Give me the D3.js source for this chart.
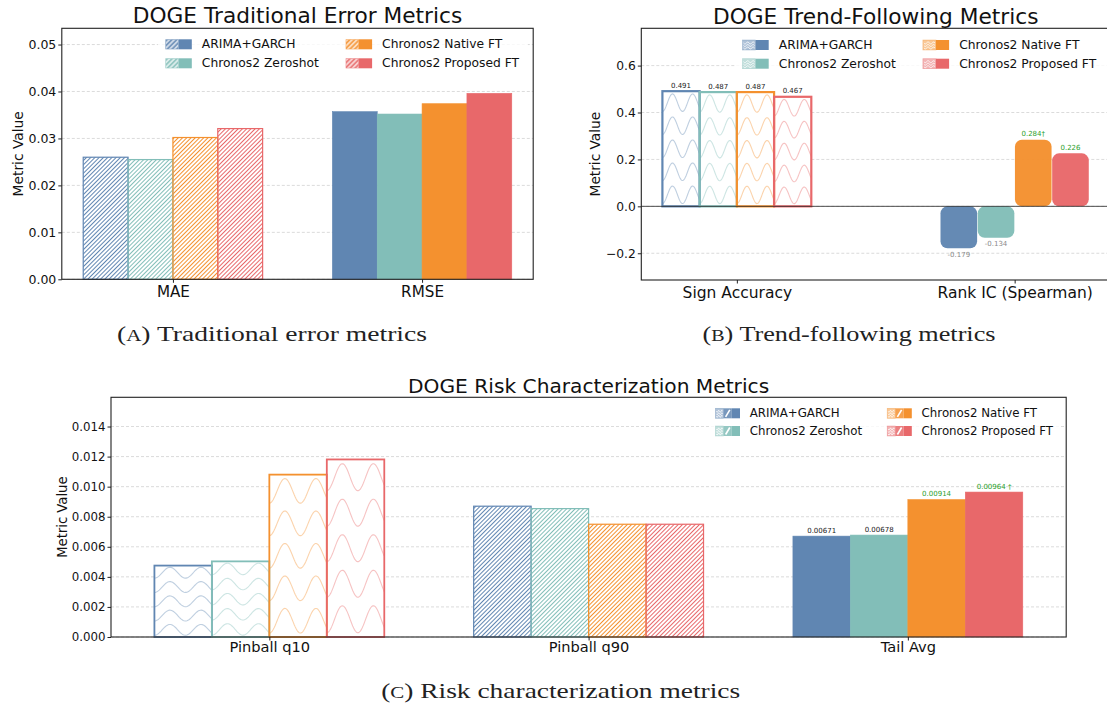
<!DOCTYPE html>
<html>
<head>
<meta charset="utf-8">
<script src="https://cdn.jsdelivr.net/npm/d3@7"></script>
<style>
  body { margin: 0; background: #fff; }
  svg { display: block; }
  text { font-family: "DejaVu Sans", sans-serif; fill: #111; }
</style>
</head>
<body>
<svg id="fig" width="1107" height="709"></svg>
<script>
// data
const models = ["ARIMA+GARCH", "Chronos2 Zeroshot", "Chronos2 Native FT", "Chronos2 Proposed FT"];

const errCategories = ["MAE", "RMSE"];
const maeValues = [0.0260, 0.0255, 0.0302, 0.0321];
const rmseValues = [0.0357, 0.0352, 0.0374, 0.0396];
const errTicks = [0, 0.01, 0.02, 0.03, 0.04, 0.05];

const trendCategories = ["Sign Accuracy", "Rank IC (Spearman)"];
const signAccuracy = [0.491, 0.487, 0.487, 0.467];
const rankIC = [-0.179, -0.134, 0.284, 0.226];
const rankICLabels = ["-0.179", "-0.134", "0.284\u2020", "0.226"];
const trendTicks = [-0.2, 0, 0.2, 0.4, 0.6];

const riskCategories = ["Pinball q10", "Pinball q90", "Tail Avg"];
const pinballQ10 = [0.00475, 0.00503, 0.0108, 0.01181];
const pinballQ90 = [0.0087, 0.00854, 0.0075, 0.0075];
const tailAvg = [0.00671, 0.00678, 0.00914, 0.00964];
const tailLabels = ["0.00671", "0.00678", "0.00914", "0.00964 \u2020"];
const riskTicks = [0, 0.002, 0.004, 0.006, 0.008, 0.010, 0.012, 0.014];

const colors = ["#6086b2", "#82beb8", "#f4912f", "#e8686a"];
const GREEN = "#2ca02c";

const svg = d3.select("#fig");
const defs = svg.append("defs");

// hatch "////" patterns, one per model, plus a white one for legend keys
colors.concat(["#fff"]).forEach((c, i) => {
  const sp = i < 4 ? 3.0 : 3.4;
  const p = defs.append("pattern")
    .attr("id", i < 4 ? "hatch" + i : "hatchW")
    .attr("patternUnits", "userSpaceOnUse")
    .attr("width", sp).attr("height", 10)
    .attr("patternTransform", "rotate(45)");
  p.append("line")
    .attr("x1", sp / 2).attr("x2", sp / 2).attr("y1", 0).attr("y2", 10)
    .attr("stroke", c).attr("stroke-width", i < 4 ? 1.05 : 1.1);
});

function drawPanel(o) {
  const g = svg.append("g");
  const x = d3.scaleLinear().domain(o.xDomain).range([o.left, o.right]);
  const y = d3.scaleLinear().domain(o.yDomain).range([o.bottom, o.top]);

  g.append("g").selectAll("line").data(o.ticks).join("line")
    .attr("x1", o.left).attr("x2", o.right)
    .attr("y1", d => y(d)).attr("y2", d => y(d))
    .attr("stroke", "#d2d2d2").attr("stroke-width", 0.8)
    .attr("stroke-dasharray", "3,2");

  const bars = g.append("g");
  const over = g.append("g");

  // axes
  const ya = g.append("g").attr("transform", `translate(${o.left},0)`)
    .call(d3.axisLeft(y).tickValues(o.ticks).tickFormat(d3.format(o.fmt))
      .tickSize(3.5).tickPadding(2));
  ya.select(".domain").remove();
  ya.selectAll("text").style("font-size", o.tickFont + "px").style("font-family", "DejaVu Sans");
  ya.selectAll("line").attr("stroke", "#222");

  const xa = g.append("g").attr("transform", `translate(0,${o.bottom})`)
    .call(d3.axisBottom(x).tickValues(o.cats.map((_, i) => i))
      .tickFormat(i => o.cats[i]).tickSize(3.5).tickPadding(o.xPad));
  xa.select(".domain").remove();
  xa.selectAll("text").style("font-size", o.catFont + "px").style("font-family", "DejaVu Sans");
  xa.selectAll("line").attr("stroke", "#222");

  g.append("rect")
    .attr("x", o.left).attr("y", o.top)
    .attr("width", o.right - o.left).attr("height", o.bottom - o.top)
    .attr("fill", "none").attr("stroke", "#222").attr("stroke-width", 1.1);

  g.append("text")
    .attr("x", (o.left + o.right) / 2).attr("y", o.titleY)
    .attr("text-anchor", "middle")
    .style("font-size", o.titleFont + "px")
    .text(o.title);

  g.append("text")
    .attr("transform", `translate(${o.ylabX},${(o.top + o.bottom) / 2}) rotate(-90)`)
    .attr("text-anchor", "middle").attr("dominant-baseline", "central")
    .style("font-size", o.ylabFont + "px")
    .text("Metric Value");

  return { g, x, y, bars, over, o };
}

function wavePath(x0, yTop, w, h) {
  const rows = 5, rowH = h / 5, amp = 0.38 * rowH, n = 60;
  const line = d3.line();
  let d = "";
  for (let k = 0; k < rows; k++) {
    const cy = yTop + (k + 0.5) * rowH;
    const pts = d3.range(n + 1).map(i => [x0 + (i / n) * w, cy + amp * Math.cos(2 * Math.PI * 1.85 * i / n)]);
    d += line(pts);
  }
  return d;
}

function drawBars(p, ci, vals, style, w, edge) {
  vals.forEach((v, mi) => {
    const cx = ci + (mi - 1.5) * w;
    const x0 = p.x(cx - w / 2), x1 = p.x(cx + w / 2);
    const yA = p.y(Math.max(0, v)), yB = p.y(Math.min(0, v));
    const bw = x1 - x0, bh = yB - yA;
    const c = colors[mi];
    if (style === "solid") {
      p.bars.append("rect").attr("x", x0).attr("y", yA).attr("width", bw).attr("height", bh)
        .attr("fill", c).attr("stroke", c).attr("stroke-width", 0.6);
    } else if (style === "hatch") {
      p.bars.append("rect").attr("x", x0).attr("y", yA).attr("width", bw).attr("height", bh)
        .attr("fill", "#fff");
      p.bars.append("rect").attr("x", x0).attr("y", yA).attr("width", bw).attr("height", bh)
        .attr("fill", `url(#hatch${mi})`);
      p.over.append("rect").attr("x", x0).attr("y", yA).attr("width", bw).attr("height", bh)
        .attr("fill", "none").attr("stroke", c).attr("stroke-width", 1.2);
    } else if (style === "wave") {
      p.bars.append("rect").attr("x", x0).attr("y", yA).attr("width", bw).attr("height", bh)
        .attr("fill", "#fff");
      p.bars.append("path").attr("d", wavePath(x0, yA, bw, bh))
        .attr("fill", "none").attr("stroke", c).attr("stroke-opacity", 0.4).attr("stroke-width", 1.1);
      p.over.append("rect").attr("x", x0).attr("y", yA).attr("width", bw).attr("height", bh)
        .attr("fill", "none").attr("stroke", c).attr("stroke-width", edge || 2);
    } else if (style === "rounded") {
      p.bars.append("rect").attr("x", x0 + 0.3).attr("y", yA).attr("width", bw - 0.6).attr("height", bh)
        .attr("rx", 7).attr("ry", 7)
        .attr("fill", c).attr("fill-opacity", 0.97);
    }
  });
}

function barLabels(p, ci, vals, labels, w, tone) {
  vals.forEach((v, mi) => {
    const cx = p.x(ci + (mi - 1.5) * w);
    const neg = v < 0;
    p.over.append("text")
      .attr("x", cx)
      .attr("y", neg ? p.y(v) + 8.5 : p.y(v) - 3.5)
      .attr("text-anchor", "middle")
      .style("font-size", "7px")
      .style("fill", tone(mi, v))
      .text(labels[mi]);
  });
}

function legend(p, L) {
  const lg = p.g.append("g");
  lg.append("rect").attr("x", L.box[0]).attr("y", L.box[1])
    .attr("width", L.box[2] - L.box[0]).attr("height", L.box[3] - L.box[1])
    .attr("rx", 3).attr("fill", "#fff").attr("fill-opacity", 0.8);
  models.forEach((m, mi) => {
    const col = Math.floor(mi / 2), row = mi % 2;
    const px = L.patchX[col], py = L.rowY[row];
    const c = colors[mi];
    const h = 10, top = py - h / 2;
    const parts = L.parts;
    const pw = L.patchW / parts.length;
    parts.forEach((kind, k) => {
      const x0 = px + k * pw;
      if (kind === "solid") {
        lg.append("rect").attr("x", x0).attr("y", top).attr("width", pw).attr("height", h).attr("fill", c);
      } else if (kind === "hatch") {
        lg.append("rect").attr("x", x0).attr("y", top).attr("width", pw).attr("height", h)
          .attr("fill", c).attr("fill-opacity", 0.85);
        lg.append("rect").attr("x", x0 + 0.5).attr("y", top + 0.5).attr("width", pw - 1).attr("height", h - 1)
          .attr("fill", "url(#hatchW)");
      } else if (kind === "slash") {
        lg.append("rect").attr("x", x0).attr("y", top).attr("width", pw).attr("height", h)
          .attr("fill", c).attr("fill-opacity", 0.85);
        lg.append("line").attr("x1", x0 + 2).attr("y1", top + h - 1.5).attr("x2", x0 + pw - 2).attr("y2", top + 1.5)
          .attr("stroke", "#fff").attr("stroke-width", 1.6);
      } else if (kind === "wave") {
        lg.append("rect").attr("x", x0).attr("y", top).attr("width", pw).attr("height", h)
          .attr("fill", c).attr("fill-opacity", 0.5).attr("stroke", c).attr("stroke-opacity", 0.5).attr("stroke-width", 0.6);
        const ln = d3.line();
        [0.3, 0.55, 0.8].forEach(f => {
          const pts = d3.range(13).map(i => [x0 + 1 + i / 12 * (pw - 2), top + f * h + 1 * Math.sin(i / 12 * 4 * Math.PI)]);
          lg.append("path").attr("d", ln(pts)).attr("fill", "none").attr("stroke", "#fff").attr("stroke-width", 0.8);
        });
      }
    });
    lg.append("text")
      .attr("x", px + L.textDx).attr("y", py)
      .attr("dominant-baseline", "central")
      .style("font-size", L.font + "px")
      .text(m);
  });
}

// ---------- (a) traditional error metrics
const wA = 0.18;
const pA = drawPanel({
  left: 61.8, right: 533.2, top: 28.3, bottom: 279.3,
  xDomain: [-0.446, 1.446], yDomain: [0, d3.max(rmseValues.concat(maeValues)) * 1.35],
  ticks: errTicks, fmt: ".2f", cats: errCategories,
  tickFont: 12.5, catFont: 15.2, xPad: 3.2,
  title: "DOGE Traditional Error Metrics", titleY: 23.3, titleFont: 21.7,
  ylabX: 18, ylabFont: 13.8
});
drawBars(pA, 0, maeValues, "hatch", wA);
drawBars(pA, 1, rmseValues, "solid", wA);
legend(pA, {
  box: [158, 33, 528, 74], patchX: [165.4, 345.7], rowY: [44.3, 63.3],
  patchW: 26.4, textDx: 36.4, font: 12.3, parts: ["hatch", "solid"]
});

// ---------- (b) trend-following metrics
const wB = 0.134;
const pB = drawPanel({
  left: 641.3, right: 1110.2, top: 28.3, bottom: 280,
  xDomain: [-0.344, 1.344], yDomain: [-0.314, 0.759],
  ticks: trendTicks, fmt: ".1f", cats: trendCategories,
  tickFont: 12.3, catFont: 15.5, xPad: 3.2,
  title: "DOGE Trend-Following Metrics", titleY: 23.5, titleFont: 21.7,
  ylabX: 595, ylabFont: 13.7
});
drawBars(pB, 0, signAccuracy, "wave", wB, 2.2);
drawBars(pB, 1, rankIC, "rounded", wB);
pB.over.append("line")
  .attr("x1", pB.o.left).attr("x2", pB.o.right)
  .attr("y1", pB.y(0)).attr("y2", pB.y(0))
  .attr("stroke", "#222").attr("stroke-width", 0.8);
barLabels(pB, 0, signAccuracy, signAccuracy.map(d3.format(".3f")), wB, () => "#222");
barLabels(pB, 1, rankIC, rankICLabels, wB, (mi, v) => v < 0 ? "#8a8a8a" : GREEN);
legend(pB, {
  box: [736, 34, 1107, 74], patchX: [742.5, 922.9], rowY: [45, 63.7],
  patchW: 26.2, textDx: 36.3, font: 12.3, parts: ["wave", "solid"]
});

// ---------- (c) risk characterization metrics
const wC = 0.18;
const pC = drawPanel({
  left: 111, right: 1066.2, top: 397.3, bottom: 637,
  xDomain: [-0.496, 2.496], yDomain: [0, d3.max(pinballQ10) * 1.35],
  ticks: riskTicks, fmt: ".3f", cats: riskCategories,
  tickFont: 11.8, catFont: 14.6, xPad: 1.5,
  title: "DOGE Risk Characterization Metrics", titleY: 393.3, titleFont: 20.2,
  ylabX: 62, ylabFont: 13.2
});
drawBars(pC, 0, pinballQ10, "wave", wC, 1.8);
drawBars(pC, 1, pinballQ90, "hatch", wC);
drawBars(pC, 2, tailAvg, "solid", wC);
barLabels(pC, 2, tailAvg, tailLabels, wC, mi => mi >= 2 ? GREEN : "#222");
legend(pC, {
  box: [709, 403, 1060, 441], patchX: [715.4, 887.2], rowY: [413.3, 431],
  patchW: 24.6, textDx: 34.4, font: 11.8, parts: ["wave", "slash", "solid"]
});

// ---------- sub-captions
const captions = [
  { letter: "A", rest: " Traditional error metrics", x: 272, y: 341, w: 310 },
  { letter: "B", rest: " Trend-following metrics", x: 849, y: 341, w: 293 },
  { letter: "C", rest: " Risk characterization metrics", x: 560.7, y: 698, w: 359 }
];
captions.forEach(c => {
  const t = svg.append("text")
    .attr("x", c.x).attr("y", c.y)
    .attr("text-anchor", "middle")
    .attr("textLength", c.w).attr("lengthAdjust", "spacingAndGlyphs")
    .style("font-family", "'Liberation Serif', 'DejaVu Serif', serif")
    .style("font-size", "21px").style("fill", "#222");
  t.append("tspan").text("(");
  t.append("tspan").style("font-size", "16px").text(c.letter);
  t.append("tspan").text(")" + c.rest);
});
</script>
</body>
</html>
